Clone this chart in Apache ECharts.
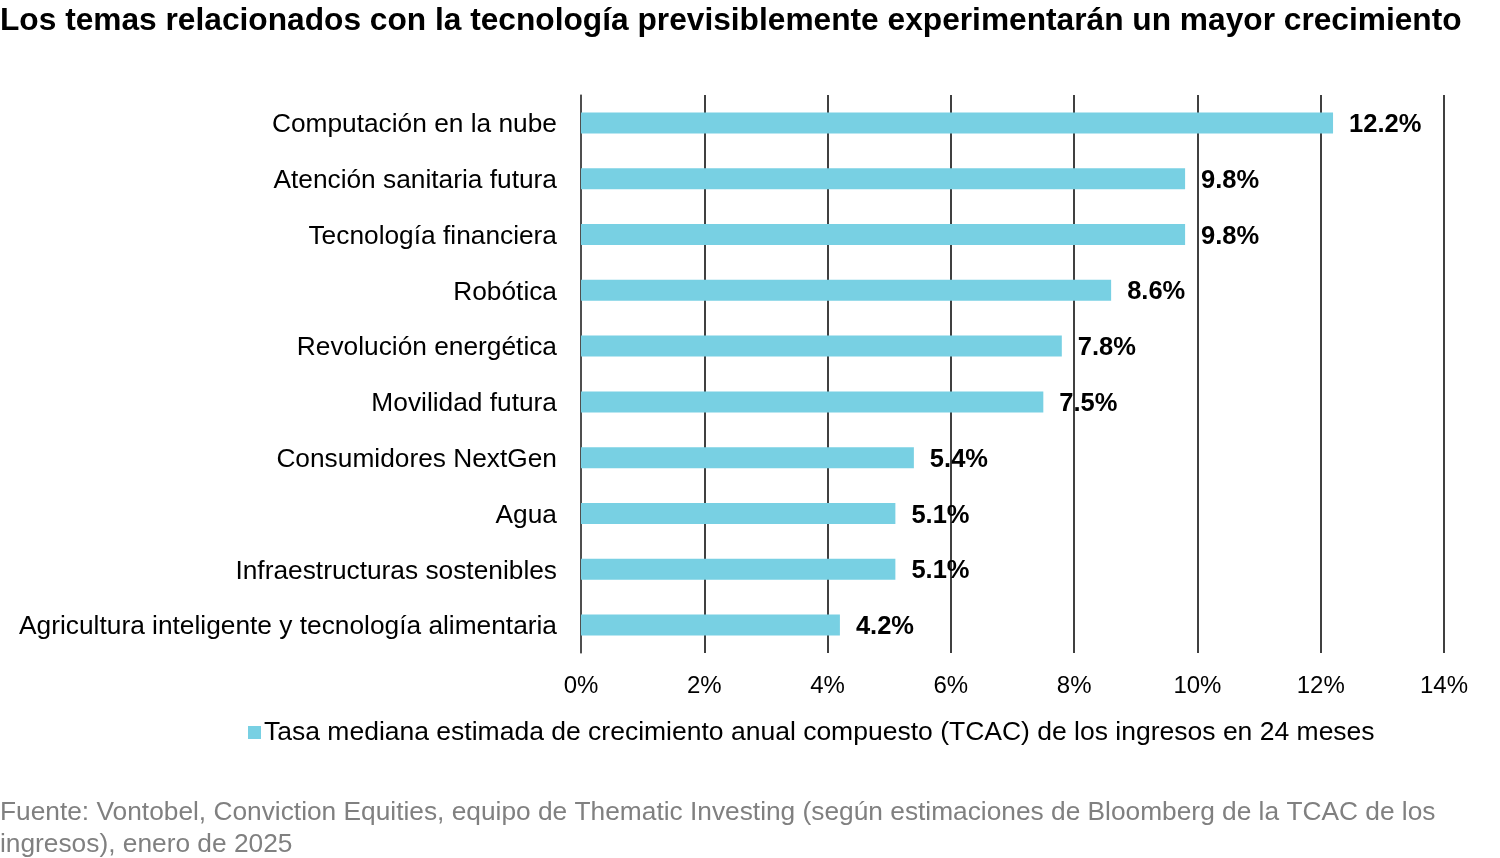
<!DOCTYPE html>
<html><head><meta charset="utf-8">
<script src="https://cdn.jsdelivr.net/npm/echarts@6/dist/echarts.min.js"></script>
<style>html,body{margin:0;padding:0;background:#fff}#c{width:1500px;height:858px}</style>
</head><body><div id="c"></div>
<script>
const categories = ["Computación en la nube","Atención sanitaria futura","Tecnología financiera","Robótica","Revolución energética","Movilidad futura","Consumidores NextGen","Agua","Infraestructuras sostenibles","Agricultura inteligente y tecnología alimentaria"];
const values = [12.2, 9.8, 9.8, 8.6, 7.8, 7.5, 5.4, 5.1, 5.1, 4.2];
const seriesName = "Tasa mediana estimada de crecimiento anual compuesto (TCAC) de los ingresos en 24 meses";
const titleText = "Los temas relacionados con la tecnología previsiblemente experimentarán un mayor crecimiento";
const sourceText = "Fuente: Vontobel, Conviction Equities, equipo de Thematic Investing (según estimaciones de Bloomberg de la TCAC de los\ningresos), enero de 2025";
const FONT = "Liberation Sans, Arial, sans-serif";
const chart = echarts.init(document.getElementById('c'));
chart.setOption({
  animation: false,
  textStyle: {fontFamily: FONT},
  title: [
    {text: titleText, left: 0, top: 5, padding: 0, textStyle: {fontFamily: FONT, fontSize: 31.7, fontWeight: 'bold', color: '#000'}},
    {text: sourceText, left: 0, top: 797, padding: 0, textStyle: {fontFamily: FONT, fontSize: 26.3, fontWeight: 'normal', color: '#808080', lineHeight: 32}}
  ],
  legend: {
    data: [seriesName], left: 243, top: 714, icon: 'rect', itemWidth: 13, itemHeight: 13, itemGap: 6,
    textStyle: {fontFamily: FONT, fontSize: 26.5, color: '#000', padding: [0,0,0,-2]}
  },
  grid: {left: 581, right: 56, top: 95, bottom: 205},
  xAxis: {
    type: 'value', min: 0, max: 14, interval: 2,
    axisLabel: {formatter: '{value}%', fontFamily: FONT, fontSize: 24, color: '#000', margin: 21},
    splitLine: {show: true, lineStyle: {color: '#000', width: 1.5}},
    axisLine: {show: false}, axisTick: {show: false}
  },
  yAxis: {
    type: 'category', data: categories, inverse: true,
    axisLine: {show: true, lineStyle: {color: '#555', width: 1.5}},
    axisTick: {show: false},
    axisLabel: {fontFamily: FONT, fontSize: 26.3, color: '#000', margin: 24,
      formatter: v => '{a|' + v + '}',
      rich: {a: {fontFamily: FONT, fontSize: 26.3, color: '#000', padding: [4, 0, 0, 0]}}}
  },
  series: [{
    name: seriesName, type: 'bar', data: values, barWidth: 21,
    itemStyle: {color: '#78d0e3'},
    label: {show: true, position: 'right', distance: 16, formatter: p => p.value.toFixed(1) + '%',
      fontFamily: FONT, fontSize: 25.5, fontWeight: 'bold', color: '#000', offset: [0, 2]}
  }]
});
</script></body></html>
